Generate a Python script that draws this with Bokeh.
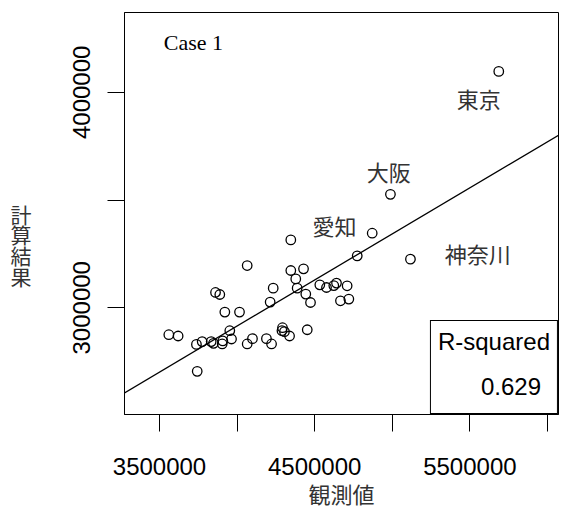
from bokeh.plotting import figure
from bokeh.models import Range1d, FixedTicker, Slope, Legend, LegendItem
from bokeh.core.properties import value
from bokeh.embed import file_html
from bokeh.resources import INLINE

# ---- data ----
observed = [3560000, 3620000, 3738000, 3775000, 3833000, 3848000, 3904000, 3908000,
            3953000, 3964000, 4065000, 4099000, 4189000, 4222000, 4292500, 4289000,
            4305000, 4338000, 4452000, 3743000, 3861000, 3888500, 3921000, 4015500,
            4065000, 4213000, 4232600, 4346000, 4346000, 4428000, 4378000, 4387000,
            4442600, 4473000, 4533000, 4576000, 4623000, 4640500, 4666000, 4709000,
            4720000, 4774000, 4870500, 5117000, 4988000, 5686000]
calculated = [2875000, 2869000, 2830000, 2843000, 2843000, 2835000, 2832000, 2846000,
              2893500, 2855000, 2832000, 2856500, 2856500, 2832000, 2907400, 2893500,
              2889000, 2869000, 2898000, 2705000, 3071000, 3061600, 2980000, 2980000,
              3196000, 3026400, 3091000, 3315000, 3173000, 3180600, 3134000, 3091000,
              3063400, 3024500, 3106500, 3094000, 3103000, 3114400, 3032400, 3102000,
              3040300, 3240700, 3346000, 3225500, 3526400, 4097000]

label_names = ["東京", "大阪", "愛知", "神奈川"]
label_x = [5557400, 4977400, 4627500, 5551000]
label_y = [3975500, 3635700, 3384300, 3256000]

case_title = "Case 1"
case_x = [3719000]
case_y = [4231500]

fit_intercept = 1204923
fit_slope = 0.4276

rsq_title = "R-squared"
rsq_value = "0.629"

x_ticks = [3500000, 4000000, 4500000, 5000000, 5500000, 6000000]
x_tick_labels = ["3500000", "", "4500000", "", "5500000", ""]
y_ticks = [3000000, 3500000, 4000000]
y_tick_labels = ["3000000", "", "4000000"]

x_title = "観測値"
y_title_chars = ["計", "算", "結", "果"]

x_lim = (3274485, 6070876)
y_lim = (2504630, 4370370)

# ---- layout ----
W, H = 561, 510
BL, BR, BT, BB = 124, 3, 12, 95
SANS = "Liberation Sans"
SERIF = "Liberation Serif"
CJK = "Noto Sans CJK JP"

p = figure(width=W, height=H, output_backend="svg", toolbar_location=None,
           x_range=Range1d(*x_lim), y_range=Range1d(*y_lim),
           min_border_left=BL, min_border_right=BR, min_border_top=BT,
           min_border_bottom=BB)
p.xgrid.visible = False
p.ygrid.visible = False
p.background_fill_color = "white"
p.border_fill_color = "white"
p.outline_line_color = "black"
p.outline_line_width = 1
p.outline_line_alpha = 1

for ax, ticks, labels in ((p.xaxis[0], x_ticks, x_tick_labels),
                          (p.yaxis[0], y_ticks, y_tick_labels)):
    ax.ticker = FixedTicker(ticks=ticks, minor_ticks=[])
    ax.major_label_overrides = {t: l for t, l in zip(ticks, labels)}
    ax.axis_line_color = "black"
    ax.major_tick_line_color = "black"
    ax.major_tick_in = 0
    ax.major_tick_out = 17
    ax.minor_tick_line_color = None
    ax.major_label_text_font = SANS
    ax.major_label_text_font_size = "24px"
    ax.major_label_text_color = "black"

p.xaxis.major_label_standoff = 26
p.yaxis.major_label_standoff = 17
p.yaxis.major_label_orientation = "vertical"

p.xaxis.axis_label = x_title
p.xaxis.axis_label_text_font = "'Liberation Sans', 'Noto Sans CJK JP'"
p.xaxis.axis_label_text_font_size = "22px"
p.xaxis.axis_label_text_font_style = "normal"
p.xaxis.axis_label_text_color = "#333333"
p.xaxis.axis_label_standoff = 5

# y-axis title: upright stacked characters; three empty leading lines push the
# block down so that it sits below the frame centre as in the reference
ya = p.yaxis[0]
ya.axis_label_orientation = "horizontal"
ya.axis_label = "\n" * 3 + "\n".join(y_title_chars)
ya.axis_label_text_font = CJK
ya.axis_label_text_font_size = "21px"
ya.axis_label_text_font_style = "normal"
ya.axis_label_text_color = "#333333"
ya.axis_label_text_line_height = 0.69
ya.axis_label_standoff = 39

# regression line
p.add_layout(Slope(gradient=fit_slope, y_intercept=fit_intercept,
                   line_color="black", line_width=1.3))

# points
p.scatter(observed, calculated, size=9.5, fill_color=None, line_color="black",
          line_width=1.3)

# prefecture labels
p.text(x=label_x, y=label_y, text=label_names, text_font=value(CJK),
       text_font_size="22px", text_align="center", text_baseline="middle",
       text_color="#333333")

# case title
p.text(x=case_x, y=case_y, text=[case_title], text_font=value(SERIF),
       text_font_size="22px", text_align="center", text_baseline="middle",
       text_color="black")

# R-squared box
dummy = p.scatter(x=[], y=[], size=0, fill_alpha=0, line_alpha=0)
legend = Legend(items=[LegendItem(label=rsq_value, renderers=[dummy])],
                title=rsq_title, location="bottom_right", margin=0, padding=7,
                spacing=0, title_standoff=11, glyph_width=38, glyph_height=39,
                label_standoff=5,
                title_text_font=SANS, title_text_font_size="24px",
                title_text_font_style="normal", title_text_color="black",
                label_text_font=SANS, label_text_font_size="24px",
                label_text_color="black",
                border_line_color="black", border_line_width=1, border_line_alpha=1,
                background_fill_color="white", background_fill_alpha=1)
p.add_layout(legend)

open("out.html", "w").write(file_html(p, INLINE))
